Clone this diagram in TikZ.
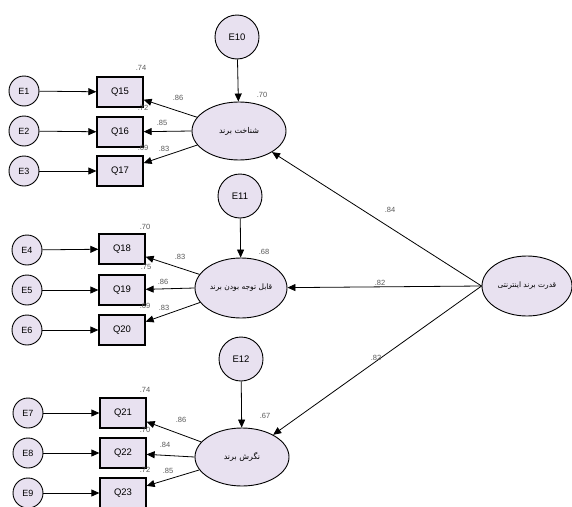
\documentclass[tikz,border=0pt]{standalone}
\usepackage{fontspec}
\setsansfont{Liberation Sans}
\newfontfamily\arabicfont[Script=Arabic]{DejaVu Sans}
\TeXXeTstate=1
\usetikzlibrary{arrows.meta,shapes.geometric}
\definecolor{lav}{RGB}{232,225,240}
\definecolor{numcol}{RGB}{90,90,90}
\begin{document}
\begin{tikzpicture}[x=1pt,y=-1pt,
  errc/.style={circle,draw,line width=0.9pt,fill=lav,minimum size=30pt,inner sep=0pt,font=\sffamily\fontsize{9}{9}\selectfont},
  distc/.style={circle,draw,line width=0.9pt,fill=lav,minimum size=44pt,inner sep=0pt,font=\sffamily\fontsize{9.5}{9.5}\selectfont},
  obs/.style={rectangle,draw,line width=1.3pt,fill=lav,minimum width=46pt,minimum height=30pt,inner sep=0pt,font=\sffamily\fontsize{9.5}{9.5}\selectfont},
  lat/.style={ellipse,draw,line width=0.9pt,fill=lav,minimum width=94pt,minimum height=58pt,inner sep=0pt,font=\arabicfont\fontsize{8}{8}\selectfont},
  arr/.style={-{Triangle[length=8pt,width=7pt]},line width=0.8pt},
  lbl/.style={font=\sffamily\fontsize{7.5}{8}\selectfont,text=numcol,inner sep=0pt}]
\useasboundingbox (0,0) rectangle (572,506);
\fill[white] (0,0) rectangle (572,506);

% main latent
\node[lat,minimum width=90pt,minimum height=60pt,font=\arabicfont\fontsize{7.5}{8}\selectfont] (M) at (527,286) {\beginR قدرت برند اینترنتی\endR};

% block 1
\node[distc] (E10) at (237,37) {E10};
\node[lat] (L1) at (239,131) {\beginR شناخت برند\endR};
\node[obs] (Q15) at (120,92) {Q15};
\node[obs] (Q16) at (120,132) {Q16};
\node[obs] (Q17) at (120,171) {Q17};
\node[errc] (E1) at (24,91) {E1};
\node[errc] (E2) at (24,131) {E2};
\node[errc] (E3) at (24,171) {E3};

% block 2
\node[distc] (E11) at (240,196) {E11};
\node[lat,minimum width=92pt,minimum height=60pt,font=\arabicfont\fontsize{7.5}{8}\selectfont] (L2) at (241,288) {\beginR قابل توجه بودن برند\endR};
\node[obs] (Q18) at (122,249) {Q18};
\node[obs] (Q19) at (122,290) {Q19};
\node[obs] (Q20) at (122,330) {Q20};
\node[errc] (E4) at (27,250) {E4};
\node[errc] (E5) at (27,290) {E5};
\node[errc] (E6) at (27,330) {E6};

% block 3
\node[distc] (E12) at (241,359) {E12};
\node[lat] (L3) at (242,457) {\beginR نگرش برند\endR};
\node[obs] (Q21) at (123,413) {Q21};
\node[obs] (Q22) at (123,453) {Q22};
\node[obs] (Q23) at (123,493) {Q23};
\node[errc] (E7) at (28,413) {E7};
\node[errc] (E8) at (28,453) {E8};
\node[errc] (E9) at (28,493) {E9};

% arrows block 1
\draw[arr] (E1) -- (Q15);
\draw[arr] (E2) -- (Q16);
\draw[arr] (E3) -- (Q17);
\draw[arr] (E10) -- (L1);
\draw[arr] (L1) -- (Q15);
\draw[arr] (L1.west) -- (Q16);
\draw[arr] (L1) -- (Q17);

% arrows block 2
\draw[arr] (E4) -- (Q18);
\draw[arr] (E5) -- (Q19);
\draw[arr] (E6) -- (Q20);
\draw[arr] (E11) -- (L2);
\draw[arr] (L2) -- (Q18);
\draw[arr] (L2.west) -- (Q19);
\draw[arr] (L2) -- (Q20);

% arrows block 3
\draw[arr] (E7) -- (Q21);
\draw[arr] (E8) -- (Q22);
\draw[arr] (E9) -- (Q23);
\draw[arr] (E12) -- (L3);
\draw[arr] (L3) -- (Q21);
\draw[arr] (L3.west) -- (Q22);
\draw[arr] (L3) -- (Q23);

% structural
\draw[arr] (M.west) -- (L1);
\draw[arr] (M.west) -- (L2);
\draw[arr] (M.west) -- (L3);

% labels block 1
\node[lbl] (n1) at (141,68) {.74};
\node[lbl] (n2) at (143,108) {.72};
\node[lbl] (n3) at (143,148) {.69};
\node[lbl] (n4) at (178,98) {.86};
\node[lbl] (n5) at (162,123) {.85};
\node[lbl] (n6) at (164,149) {.83};
\node[lbl] (n7) at (262,95) {.70};
% labels block 2
\node[lbl] (n8) at (145,227) {.70};
\node[lbl] (n9) at (146,267) {.75};
\node[lbl] (n10) at (145,306) {.69};
\node[lbl] (n11) at (180,257) {.83};
\node[lbl] (n12) at (163,282) {.86};
\node[lbl] (n13) at (164,308) {.83};
\node[lbl] (n14) at (264,252) {.68};
% labels block 3
\node[lbl] (n15) at (145,390) {.74};
\node[lbl] (n16) at (145,430) {.70};
\node[lbl] (n17) at (145,470) {.72};
\node[lbl] (n18) at (181,420) {.86};
\node[lbl] (n19) at (165,445) {.84};
\node[lbl] (n20) at (168,471) {.85};
\node[lbl] (n21) at (265,416) {.67};
% structural labels
\node[lbl] (n22) at (390,210) {.84};
\node[lbl] (n23) at (380,283) {.82};
\node[lbl] (n24) at (376,358) {.82};
\end{tikzpicture}
\end{document}
